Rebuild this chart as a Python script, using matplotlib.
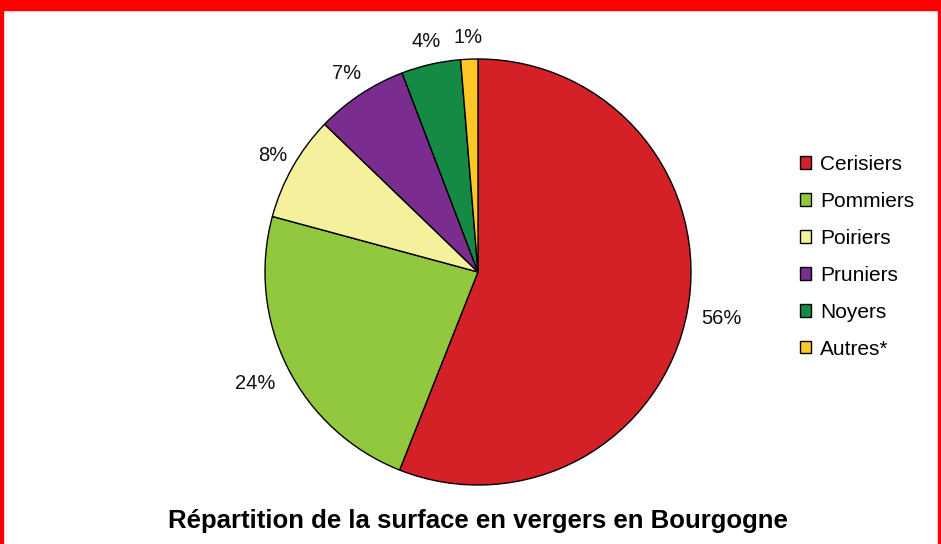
import numpy as np
import matplotlib
matplotlib.use('Agg')
from matplotlib import pyplot as plt
from matplotlib.patches import Rectangle

plt.rcParams['font.family'] = ['Liberation Sans', 'DejaVu Sans']

# data
categories = ['Cerisiers', 'Pommiers', 'Poiriers', 'Pruniers', 'Noyers', 'Autres*']
surfaces = [56.0, 23.2, 8.0, 7.0, 4.5, 1.3]
pct_labels = ['56%', '24%', '8%', '7%', '4%', '1%']
colors = ['#D42027', '#92C83E', '#F4F09C', '#7B2C8F', '#148A45', '#FFC826']
# how far out each percentage sits (in pie radii)
label_dist = [1.163, 1.17, 1.11, 1.115, 1.11, 1.10]

W, H = 941, 544
fig = plt.figure(figsize=(W / 100, H / 100), dpi=100)

# frame: thick red band on top, thin red sides
fig.patches.append(Rectangle((0, 1 - 10 / H), 1, 10 / H, transform=fig.transFigure,
                             color='#FF0000', zorder=0))
fig.patches.append(Rectangle((0, 0), 3 / W, 1, transform=fig.transFigure,
                             color='#FF0000', zorder=0))
fig.patches.append(Rectangle((1 - 3 / W, 0), 3 / W, 1, transform=fig.transFigure,
                             color='#FF0000', zorder=0))

cx, cy, r = 478, 272, 213
ax = fig.add_axes([(cx - r) / W, (H - cy - r) / H, 2 * r / W, 2 * r / H])
wedges, texts = ax.pie(surfaces, colors=colors, labels=pct_labels, startangle=90,
                       counterclock=False,
                       wedgeprops=dict(edgecolor='black', linewidth=1.0),
                       textprops=dict(fontsize=14.5, color='#111111'))
for w, t, d in zip(wedges, texts, label_dist):
    ang = np.deg2rad((w.theta1 + w.theta2) / 2)
    t.set_position((d * np.cos(ang), d * np.sin(ang)))
    t.set_horizontalalignment('center')
    t.set_verticalalignment('center')
ax.set_xlim(-1, 1)
ax.set_ylim(-1, 1)
ax.set_aspect('equal')
ax.axis('off')

fig.legend(wedges, categories, loc='upper left', bbox_to_anchor=(800 / W, 1 - 155 / H),
           frameon=False, fontsize=15, labelspacing=0.86, handlelength=0.55,
           handleheight=0.55, handletextpad=0.4, borderaxespad=0, borderpad=0)

fig.text(cx / W, 1 - 521 / H, 'Répartition de la surface en vergers en Bourgogne',
         ha='center', va='center', fontsize=18.5, fontweight='bold')

fig.savefig('out.png', dpi=100)
